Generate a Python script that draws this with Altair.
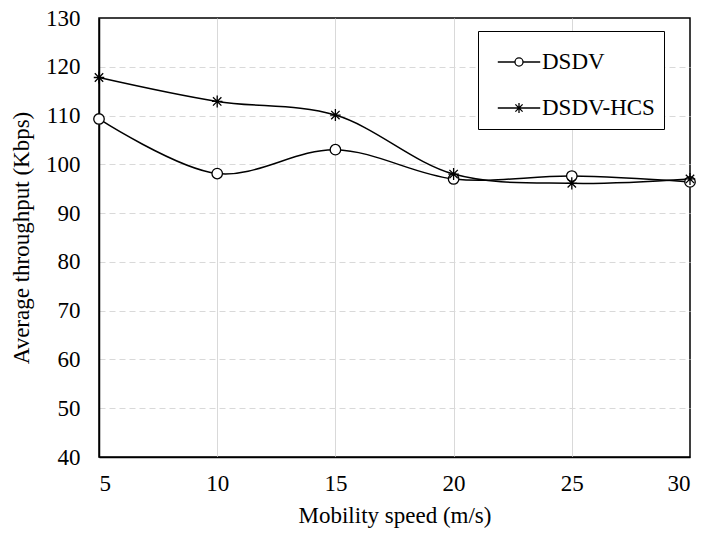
import altair as alt
import pandas as pd

speeds = [5, 10, 15, 20, 25, 30]
dsdv = [109.3, 98.1, 103.0, 97.0, 97.6, 96.4]
dsdv_hcs = [117.8, 112.9, 110.1, 98.0, 96.1, 97.0]
series_names = ["DSDV", "DSDV-HCS"]

rows = []
for s, v in zip(speeds, dsdv):
    rows.append({"speed": s, "value": v, "series": series_names[0]})
for s, v in zip(speeds, dsdv_hcs):
    rows.append({"speed": s, "value": v, "series": series_names[1]})
df = pd.DataFrame(rows)

FONT = "'Liberation Serif', 'Times New Roman', Times, serif"
FS = 23

circle_path = "M1,0 A1,1 0 1,1 -1,0 A1,1 0 1,1 1,0 Z"
star_path = "M-0.8,-0.8L0.8,0.8M-0.8,0.8L0.8,-0.8M0,-1.15L0,1.15M-1.0,0L1.0,0"

leg_circle = ("M-1,0L-0.19,0M0.19,0L1,0"
              "M0.19,0A0.19,0.19 0 1,1 -0.19,0A0.19,0.19 0 1,1 0.19,0Z")
leg_star = ("M-1,0L1,0M-0.17,-0.17L0.17,0.17M-0.17,0.17L0.17,-0.17"
            "M0,-0.24L0,0.24")

x_enc = alt.X("speed:Q",
              scale=alt.Scale(domain=[5, 30], nice=False, zero=False),
              axis=alt.Axis(title="Mobility speed (m/s)", values=speeds,
                            grid=True, gridColor="#d9d9d9", gridWidth=1,
                            gridOpacity={"condition": {"test": "datum.value <= 5 || datum.value >= 30", "value": 0}, "value": 1},
                            ticks=False, domain=True, domainColor="black",
                            domainWidth=1.5, labelPadding=15, titlePadding=9,
                            labelFont=FONT, titleFont=FONT, labelFontSize=FS,
                            titleFontSize=FS, labelColor="black",
                            titleColor="black", titleFontWeight="normal"))
y_enc = alt.Y("value:Q",
              scale=alt.Scale(domain=[40, 130], nice=False, zero=False),
              axis=alt.Axis(title="Average throughput (Kbps)",
                            values=list(range(40, 131, 10)),
                            grid=True, gridColor="#d9d9d9", gridDash=[6, 4],
                            gridOpacity={"condition": {"test": "datum.value <= 40 || datum.value >= 130", "value": 0}, "value": 1},
                            gridWidth=1, ticks=False, domain=True,
                            domainColor="black", domainWidth=1.5,
                            labelPadding=19, titlePadding=12,
                            labelFont=FONT, titleFont=FONT, labelFontSize=FS,
                            titleFontSize=FS, labelColor="black",
                            titleColor="black", titleFontWeight="normal"))

lines = alt.Chart(df).mark_line(
    interpolate="catmull-rom", color="black", strokeWidth=1.5
).encode(x=x_enc, y=y_enc, detail="series:N")

points = alt.Chart(df).mark_point(
    filled=True, fill="white", stroke="black", strokeWidth=1.3, size=110, opacity=1
).encode(
    x="speed:Q", y="value:Q",
    shape=alt.Shape("series:N",
                    scale=alt.Scale(domain=series_names,
                                    range=[circle_path, star_path]),
                    legend=None),
)

legend_layer = alt.Chart(df).transform_filter(
    "datum.speed < 0"
).mark_point(
    filled=False, color="black", strokeWidth=1.3, opacity=1
).encode(
    x="speed:Q", y="value:Q",
    shape=alt.Shape("series:N",
                    scale=alt.Scale(domain=series_names,
                                    range=[leg_circle, leg_star]),
                    legend=alt.Legend(title=None, orient="none",
                                      legendX=379, legendY=13,
                                      symbolSize=1800,
                                      symbolStrokeColor="black",
                                      symbolStrokeWidth=1.3,
                                      symbolOpacity=1,
                                      symbolOffset=10,
                                      labelFontSize=23, labelFont=FONT,
                                      labelColor="black",
                                      labelOffset=1,
                                      rowPadding=12,
                                      padding=9,
                                      strokeColor="black",
                                      fillColor="white")),
)

chart = alt.layer(lines, points, legend_layer).resolve_scale(
    shape="independent"
).properties(
    width=591, height=439,
    padding={"left": 99, "top": 18, "right": 14, "bottom": 77},
    autosize=alt.AutoSizeParams(type="none"),
    background="white",
).configure_view(
    stroke="black", strokeWidth=1.5
)

chart.save("out.html", embed_options={"renderer": "svg", "actions": False})
